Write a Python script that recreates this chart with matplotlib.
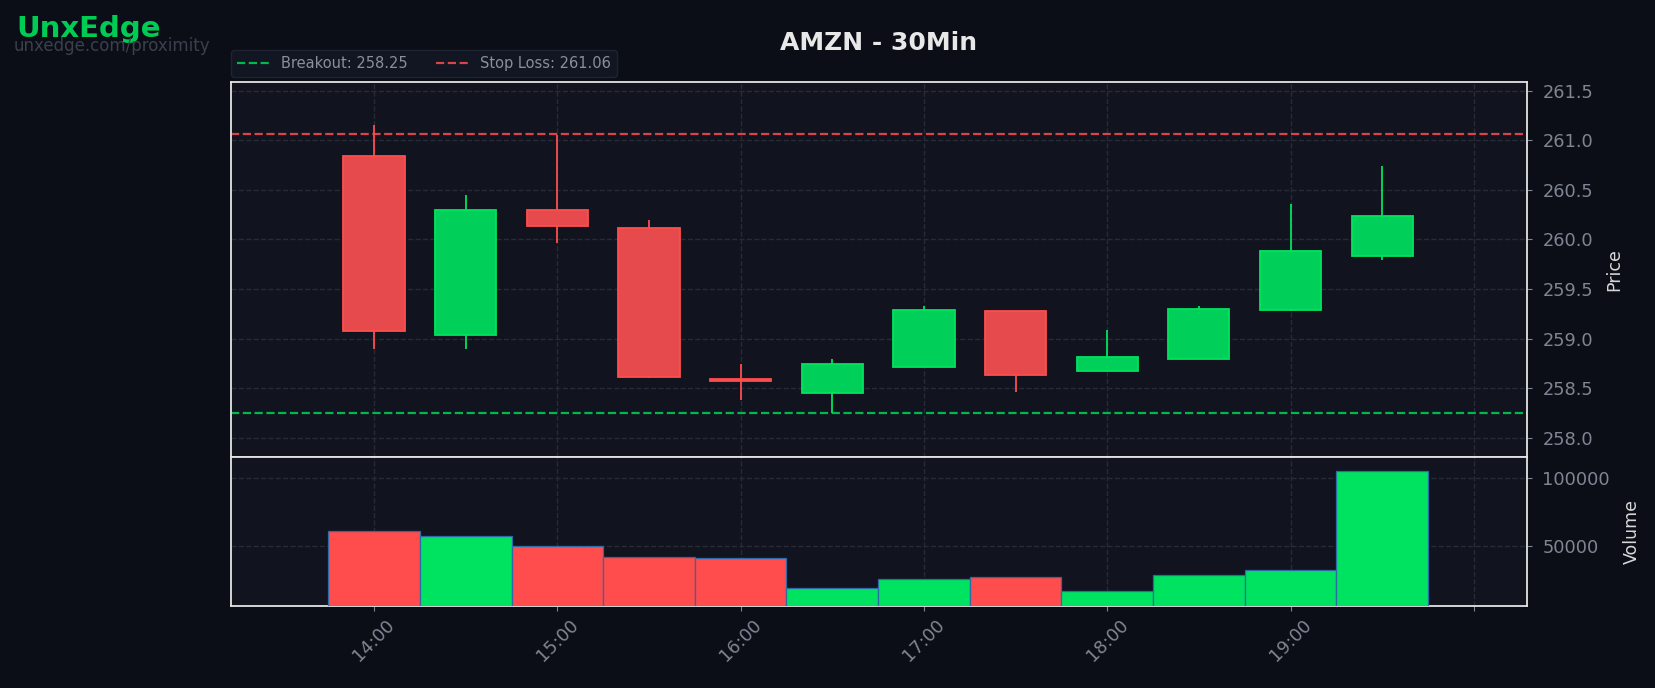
import matplotlib.pyplot as plt
from matplotlib.lines import Line2D
import numpy as np

# 30 min candles, AMZN
times = ["14:00", "14:30", "15:00", "15:30", "16:00", "16:30",
         "17:00", "17:30", "18:00", "18:30", "19:00", "19:30"]
opens = [260.84, 259.04, 260.30, 260.12, 258.59, 258.45,
         258.71, 259.28, 258.67, 258.79, 259.29, 259.83]
highs = [261.15, 260.45, 261.05, 260.20, 258.74, 258.79,
         259.33, 259.28, 259.09, 259.33, 260.36, 260.74]
lows = [258.90, 258.90, 259.96, 258.60, 258.38, 258.25,
        258.71, 258.46, 258.67, 258.79, 259.28, 259.79]
closes = [259.08, 260.30, 260.14, 258.61, 258.57, 258.74,
          259.29, 258.63, 258.81, 259.30, 259.88, 260.24]
volumes = [61000, 57100, 49800, 41700, 41000, 19100,
           25700, 27200, 16700, 28500, 32400, 104900]
breakout = 258.25
stop_loss = 261.06
hour_ticks = [14, 15, 16, 17, 18, 19, 20]
hour_labels = ["14:00", "15:00", "16:00", "17:00", "18:00", "19:00", ""]

BG = "#0b0e17"
PANEL = "#11141f"
GRID = "#272b37"
RED_FILL, RED_EDGE = "#e64a4c", "#ff4d4d"
GREEN_FILL, GREEN_EDGE = "#00d05a", "#00e35f"
TICK = "#7f8592"

x = np.array([int(t[:2]) + int(t[3:]) / 60 for t in times])
o, h, l, c = map(np.array, (opens, highs, lows, closes))
up = c >= o

fig = plt.figure(figsize=(16.55, 6.88), dpi=100, facecolor=BG)
ax = fig.add_axes([0.1396, 0.3362, 0.7831, 0.5451], facecolor=PANEL)
axv = fig.add_axes([0.1396, 0.1187, 0.7831, 0.2175], facecolor=PANEL, sharex=ax)

# candles
wick_cols = np.where(up, GREEN_EDGE, RED_EDGE)
ax.vlines(x, l, h, colors=wick_cols, linewidth=1.3, zorder=2)
ax.bar(x, np.abs(c - o), bottom=np.minimum(o, c), width=20 / 60,
       color=np.where(up, GREEN_FILL, RED_FILL), edgecolor=wick_cols,
       linewidth=1.3, zorder=3)

ax.axhline(breakout, color="#00b84c", linestyle="--", linewidth=1.6, zorder=1)
ax.axhline(stop_loss, color="#d9434a", linestyle="--", linewidth=1.6, zorder=1)

ax.set_ylim(257.81, 261.59)
ax.set_yticks(np.arange(258.0, 261.6, 0.5))
ax.yaxis.set_major_formatter(plt.FormatStrFormatter("%.1f"))
ax.set_ylabel("Price", color="#d8d8d8", fontsize=12.5, labelpad=9)

# volume
axv.bar(x, volumes, width=0.5, color=np.where(up, "#00e360", "#ff4d4d"),
        edgecolor="#2f6aa8", linewidth=0.9, zorder=3)
axv.set_ylim(5700, 115600)
axv.set_yticks([50000, 100000])
axv.yaxis.set_major_formatter(plt.FormatStrFormatter("%d"))
axv.set_ylabel("Volume", color="#d8d8d8", fontsize=12.5, labelpad=9)

axv.set_xlim(13.22, 20.29)
axv.set_xticks(hour_ticks)
axv.set_xticklabels(hour_labels, rotation=45)
ax.tick_params(axis="x", labelbottom=False, length=0)

for a in (ax, axv):
    a.yaxis.tick_right()
    a.yaxis.set_label_position("right")
    a.tick_params(colors=TICK, labelsize=12.8)
    a.tick_params(axis="y", pad=7.5)
    a.grid(True, color=GRID, linestyle="--", linewidth=1.0)
    a.set_axisbelow(True)
    for s in a.spines.values():
        s.set_color("#e4e4e4")
        s.set_linewidth(1.3)

ax.set_title("AMZN - 30Min", color="#e8e8e8", fontsize=18, fontweight="bold", pad=23)

handles = [Line2D([], [], color="#00b84c", linestyle="--", linewidth=1.6),
           Line2D([], [], color="#d9434a", linestyle="--", linewidth=1.6)]
leg = ax.legend(handles, [f"Breakout: {breakout:.2f}", f"Stop Loss: {stop_loss:.2f}"],
                loc="lower left", bbox_to_anchor=(0, 1.012), borderaxespad=0,
                ncol=2, fontsize=10.5, frameon=True, facecolor="#151925",
                edgecolor="#232835", labelcolor="#8a8f9c", handlelength=2.2,
                columnspacing=2.0)

fig.text(0.0097, 0.9467, "UnxEdge", color="#00cc55", fontsize=21,
         fontweight="bold", va="baseline")
fig.text(0.0085, 0.9263, "unxedge.com/proximity", color="#3b404d",
         fontsize=12, va="baseline")

fig.savefig("out.png", facecolor=BG)
